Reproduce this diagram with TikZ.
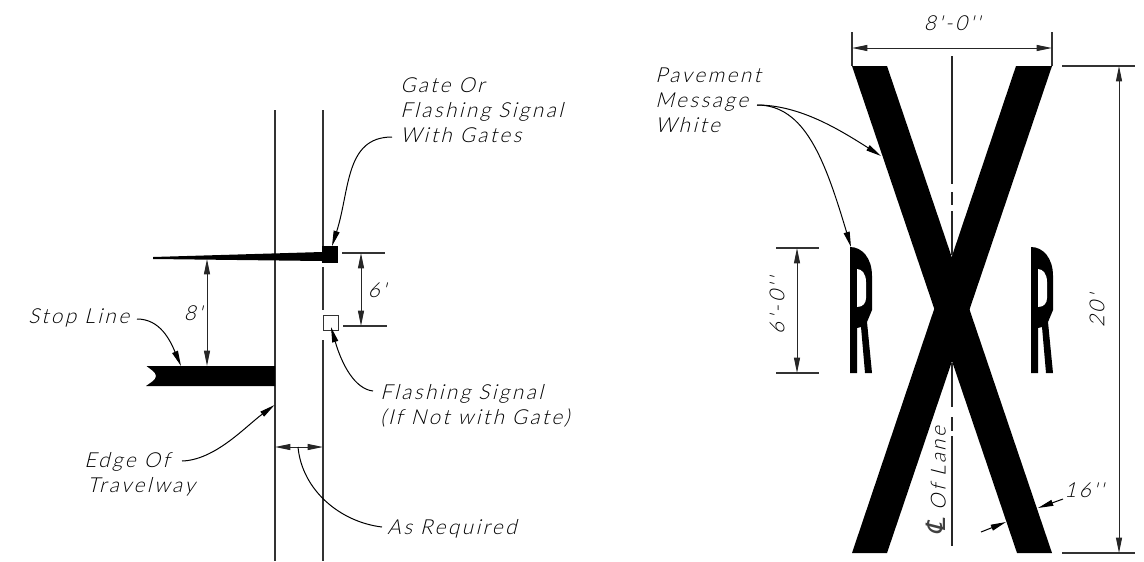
\documentclass[tikz,border=0pt]{standalone}
\usepackage{fontspec}
\newfontfamily\cadfont{Lato Light}[FakeSlant=0.25,LetterSpace=12]
\newfontfamily\clfont{DejaVu Sans}[FakeSlant=0.25]
\usetikzlibrary{arrows.meta}
\tikzset{
  lbl/.style={inner sep=0pt,anchor=base west,font=\fontsize{15.5}{15.5}\cadfont},
  dimtxt/.style={inner sep=0pt,font=\fontsize{15.5}{15.5}\cadfont},
  thin line/.style={line width=0.8pt,black!80},
  dimline/.style={line width=0.75pt,black!85,{Triangle[length=11.5pt,width=4.5pt]}-{Triangle[length=11.5pt,width=4.5pt]}},
  leader/.style={line width=0.75pt,-{Triangle[length=11.5pt,width=4.5pt]}},
  plainleader/.style={line width=0.75pt},
  blk/.style={fill=black,draw=none}
}
\begin{document}
\begin{tikzpicture}[x=0.75pt,y=-0.75pt]
\useasboundingbox (0,0) rectangle (1144,561);
% left drawing
\draw[thin line] (275,110) -- (275,561);
\draw[thin line] (323,110) -- (323,246);
\draw[thin line] (323,267) -- (323,310);
\draw[thin line] (323,340) -- (323,561);
\fill[blk] (153,257) -- (322,252) -- (322,261) -- (153,259) -- cycle;
\node[blk,minimum width=12pt,minimum height=12.75pt,inner sep=0pt] (gate) at (330,254.5) {};
\node[draw=black!80,line width=0.7pt,minimum width=11.2pt,minimum height=11.2pt,inner sep=0pt] (sig) at (330.5,323) {};
\fill[blk] (146.5,366) -- (275,366) -- (275,386) -- (146,386) .. controls (150,383) and (156,380) .. (156,376) .. controls (156,372) and (150,369) .. (146.5,366) -- cycle;
\coordinate (armb) at (207,259);
\coordinate (stopt) at (207,366);
\draw[dimline] (armb) -- (stopt);
\node[dimtxt] (t8) at (193,313) {8'};
\coordinate (d6a) at (361,253);
\coordinate (d6b) at (361,326);
\draw[thin line] (342,253) -- (385,253);
\draw[thin line] (343,326) -- (387,326);
\draw[dimline] (d6a) -- (d6b);
\node[dimtxt] (t6) at (377,290) {6'};
\node[lbl] (stop) at (28,323) {Stop Line};
\coordinate (stoptip) at (181,366);
\draw[leader] (137,319) .. controls (160,319) and (170,340) .. (stoptip);
\node[lbl] (g1) at (400,92) {Gate Or};
\node[lbl] (g2) at (400,117) {Flashing Signal};
\node[lbl] (g3) at (400,142) {With Gates};
\draw[leader] (392,137) .. controls (345,137) and (350,190) .. (332,246);
\node[lbl] (f1) at (380,399) {Flashing Signal};
\node[lbl] (f2) at (380,424) {(If Not with Gate)};
\draw[leader] (373,391) .. controls (355,389) and (342,365) .. (331,327);
\node[lbl] (e1) at (84,467) {Edge Of};
\node[lbl] (e2) at (87,492) {Travelway};
\coordinate (edgetip) at (274.5,405);
\draw[leader] (182,461) .. controls (215,460) and (245,427) .. (edgetip);
\coordinate (ar1) at (275,447);
\coordinate (ar2) at (323,447);
\draw[dimline] (ar1) -- (ar2);
\node[lbl] (req) at (387,534) {As Required};
\draw[plainleader] (298,447) .. controls (302,490) and (340,522) .. (382,527);
% right drawing
\fill[blk] (852,66) -- (887,66) -- (1052,553) -- (1017,553) -- cycle;
\fill[blk] (1016,66) -- (1052,66) -- (887,553) -- (852,553) -- cycle;
\draw[line width=0.8pt,black!85] (952,56) -- (952,184);
\draw[line width=0.8pt,black!85] (952,192) -- (952,205);
\draw[line width=0.8pt,black!85] (952,211) -- (952,255);
\draw[line width=0.8pt,black!85] (952,363) -- (952,407);
\draw[line width=0.8pt,black!85] (952,417) -- (952,431);
\draw[line width=0.8pt,black!85] (952,436) -- (952,546);
\fill[blk] (850,247) .. controls (862,247) and (872,258) .. (872,276) -- (872,310) -- (867,322) -- (872,373) -- (865,373) -- (861,327) -- (857,328) -- (857,373) -- (850,373) -- cycle;
\fill[white] (857,269) -- (857,307) .. controls (863,307) and (866,303) .. (866,298) -- (866,282) .. controls (866,274) and (862,269) .. (857,269) -- cycle;
\begin{scope}[xshift=135.75pt]
\fill[blk] (850,247) .. controls (862,247) and (872,258) .. (872,276) -- (872,310) -- (867,322) -- (872,373) -- (865,373) -- (861,327) -- (857,328) -- (857,373) -- (850,373) -- cycle;
\fill[white] (857,269) -- (857,307) .. controls (863,307) and (866,303) .. (866,298) -- (866,282) .. controls (866,274) and (862,269) .. (857,269) -- cycle;
\end{scope}
\draw[thin line] (852,32) -- (852,66);
\draw[thin line] (1052,32) -- (1052,66);
\coordinate (w1) at (852,48);
\coordinate (w2) at (1052,48);
\draw[dimline] (w1) -- (w2);
\node[dimtxt] (w) at (952,23) {8'-0''};
\draw[thin line] (1062,66) -- (1135,66);
\draw[thin line] (1062,553) -- (1135,553);
\coordinate (h1) at (1119,66);
\coordinate (h2) at (1119,553);
\draw[dimline] (h1) -- (h2);
\node[dimtxt,rotate=90] (h) at (1097,311) {20'};
\draw[thin line] (776,248) -- (819,248);
\draw[thin line] (776,373) -- (819,373);
\coordinate (r1) at (797,248);
\coordinate (r2) at (797,373);
\draw[dimline] (r1) -- (r2);
\node[dimtxt,rotate=90] (r) at (777,306) {6'-0''};
\node[lbl] (p1) at (655,82) {Pavement};
\node[lbl] (p2) at (655,107) {Message};
\node[lbl] (p3) at (655,132) {White};
\coordinate (pstart) at (757,105);
\coordinate (ptip1) at (881,156);
\coordinate (ptip2) at (851,247);
\draw[leader] (pstart) .. controls (800,105) and (840,130) .. (ptip1);
\draw[leader] (pstart) .. controls (805,105) and (825,160) .. (ptip2);
\coordinate (b1) at (981,532);
\coordinate (b2) at (1006,522);
\coordinate (b3) at (1038,508);
\coordinate (b4) at (1063,499);
\draw[leader] (b1) -- (b2);
\draw[leader] (b4) -- (b3);
\node[lbl] (sx) at (1064,497) {16''};
\node[dimtxt,rotate=90] (cl) at (936,481) {{\clfont\fontsize{20}{20}\selectfont\color{black!75}℄} Of Lane};
\end{tikzpicture}
\end{document}
